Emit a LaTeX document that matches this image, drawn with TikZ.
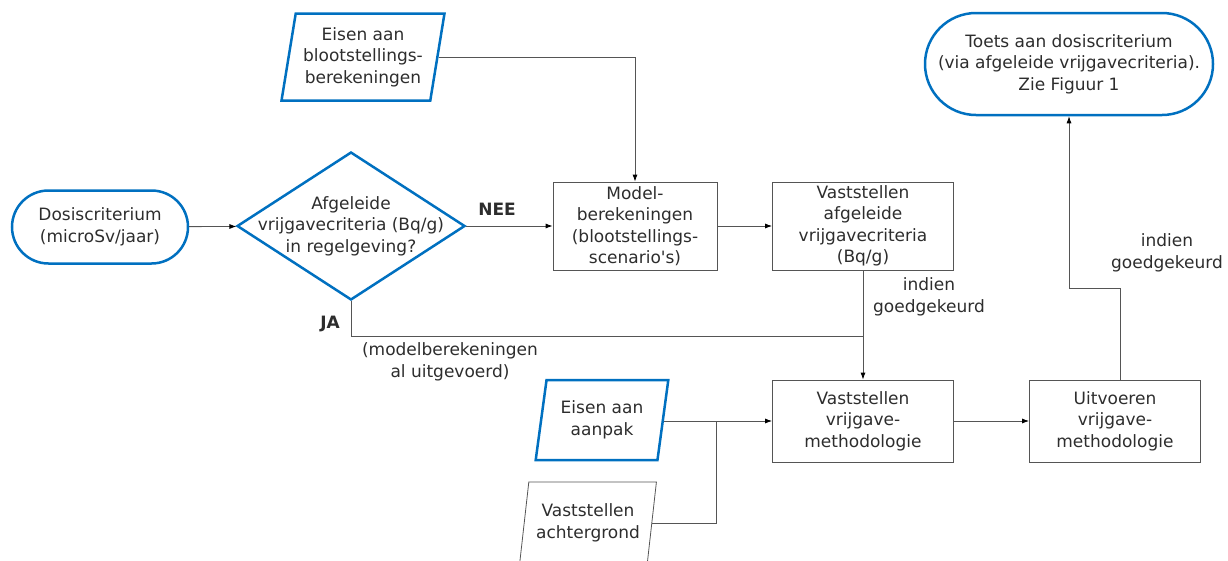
\documentclass[tikz,border=0pt]{standalone}
\usepackage{fontspec}
\setmainfont{DejaVu Sans}
\usetikzlibrary{
    shapes.geometric,
    shapes.misc,
    arrows.meta,
    positioning,
    calc
}
\definecolor{flowblue}{RGB}{0, 112, 192}
\definecolor{flowgray}{RGB}{85, 85, 85}
\definecolor{flowtext}{RGB}{45, 45, 45}

\begin{document}
\begin{tikzpicture}[
        x=1pt, y=-1pt,
        every node/.style={font=\fontsize{17}{21.5}\selectfont, text=flowtext},
        terminal/.style={rounded rectangle, draw=flowblue, line width=2.5pt, align=center, inner sep=0pt},
        process/.style={rectangle, draw=flowgray, line width=0.8pt, minimum width=181pt, minimum height=88pt, align=center, inner sep=0pt},
        invoer/.style={trapezium, trapezium left angle=78, trapezium right angle=102, trapezium stretches=true, align=center, inner sep=0pt},
        keuze/.style={diamond, draw=flowblue, line width=2.5pt, minimum width=228pt, minimum height=148pt, inner sep=0pt},
        tekst/.style={align=center, inner sep=0pt},
        line/.style={draw=flowgray, line width=0.8pt},
        arrow/.style={line, -{Latex[length=7pt, width=5pt, color=black]}}
    ]
        \useasboundingbox (0,0) rectangle (1228,560);

        % Start
        \node[terminal, minimum width=176pt, minimum height=73pt] (dosis) at (100,227) {Dosiscriterium\\(microSv/jaar)};

        % Vraag
        \node[keuze] (vraag) at (351,226) {};
        \node[tekst] (vraagtxt) at (351,226) {Afgeleide\\vrijgavecriteria (Bq/g)\\in regelgeving?};

        % Invoer bovenaan
        \node[invoer, draw=flowblue, line width=2.5pt, minimum width=163pt, minimum height=87pt] (eisbloot) at (363,57) {Eisen aan\\blootstellings-\\berekeningen};

        % Model en criteria
        \node[process, minimum width=164pt] (model) at (635,226) {Model-\\berekeningen\\(blootstellings-\\scenario\textquotesingle s)};
        \node[process] (afgel) at (863,226) {Vaststellen\\afgeleide\\vrijgavecriteria\\(Bq/g)};

        % Methodologie
        \node[process, minimum height=82pt] (vrijg) at (863,421) {Vaststellen\\vrijgave-\\methodologie};
        \node[process, minimum width=171pt, minimum height=82pt] (uitv) at (1115,421) {Uitvoeren\\vrijgave-\\methodologie};

        % Eind
        \node[terminal, minimum width=288pt, minimum height=102pt] (toets) at (1069,64) {Toets aan dosiscriterium\\(via afgeleide vrijgavecriteria).\\Zie Figuur 1};

        % Invoer onderaan
        \node[invoer, draw=flowblue, line width=2.5pt, minimum width=133pt, minimum height=80pt] (aanpak) at (602,420) {Eisen aan\\aanpak};
        \node[invoer, draw=flowgray, line width=0.8pt, minimum width=137pt, minimum height=82pt] (achter) at (588,523) {Vaststellen\\achtergrond};

        % Labels
        \node[tekst, font=\fontsize{17}{21.5}\selectfont\bfseries] (nee) at (497,209) {NEE};
        \node[tekst, font=\fontsize{17}{21.5}\selectfont\bfseries] (ja) at (330,324) {JA};
        \node[tekst] (alberekend) at (450,362) {(modelberekeningen\\al uitgevoerd)};
        \node[tekst] (goed1) at (929,297) {indien\\goedgekeurd};
        \node[tekst] (goed2) at (1167,253) {indien\\goedgekeurd};

        \coordinate (jaknik) at (863,336);
        \coordinate (samen) at (716,421);
        \coordinate (terugknik) at (1120,288);

        \draw[arrow] (dosis) -- (vraag);
        \draw[arrow] (vraag) -- (model);
        \draw[arrow] (eisbloot.east) -| (model.north);
        \draw[arrow] (model) -- (afgel);
        \draw[arrow] (afgel) -- (vrijg);
        \draw[line] (vraag.south) |- (jaknik);
        \draw[arrow] (aanpak.east |- samen) -- (vrijg.west);
        \draw[line] (achter.east) -| (samen);
        \draw[arrow] (vrijg) -- (uitv);
        \draw[arrow] (uitv.north -| terugknik) -- (terugknik) -| (toets.south);
    \end{tikzpicture}
\end{document}
